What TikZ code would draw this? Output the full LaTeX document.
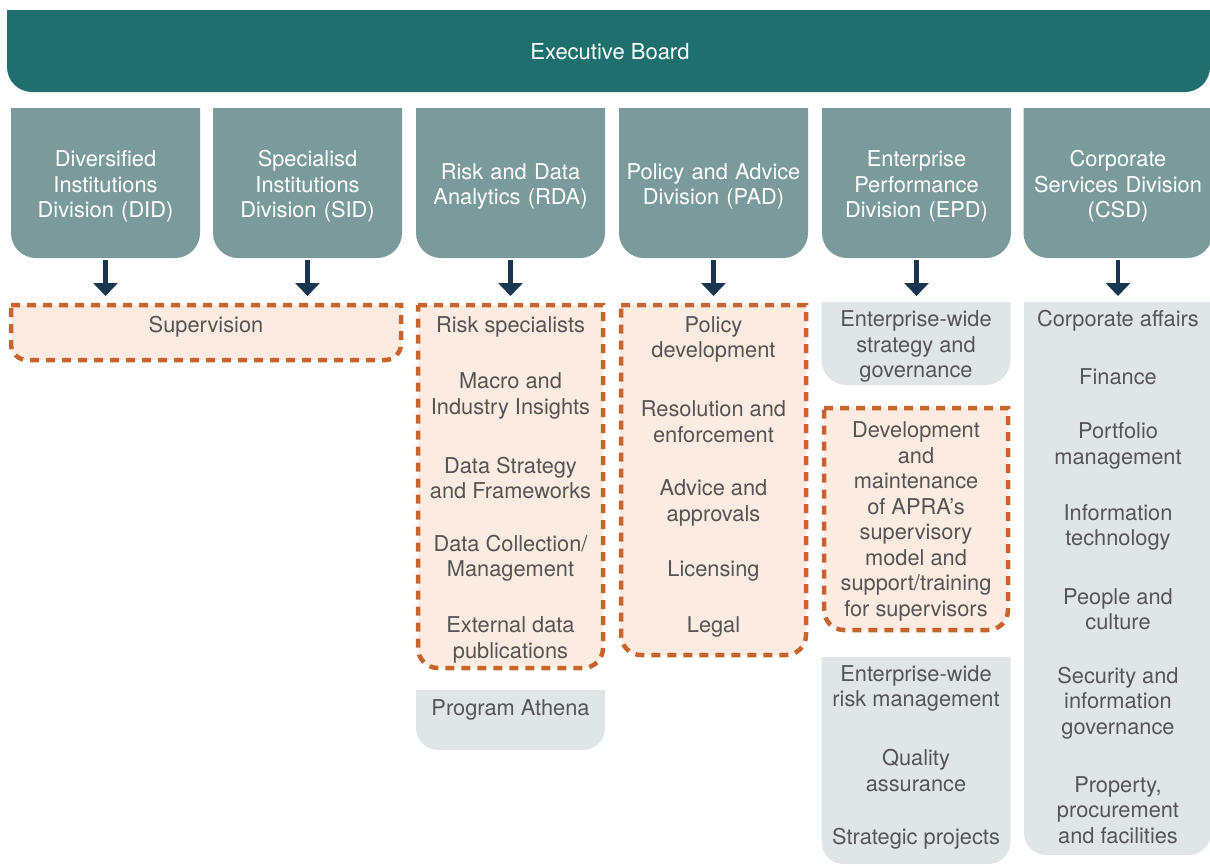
\documentclass[tikz,border=0pt]{standalone}
\usepackage{fontspec}
\setmainfont{TeX Gyre Heros}
\usetikzlibrary{arrows.meta,backgrounds}
\definecolor{boardc}{HTML}{1F6F6F}
\definecolor{divc}{HTML}{7A9A9B}
\definecolor{greyc}{HTML}{E0E6E7}
\definecolor{peachc}{HTML}{FBEBE0}
\definecolor{dashc}{HTML}{C8652F}
\definecolor{arrowc}{HTML}{1A3550}
\definecolor{textc}{HTML}{555555}
\newcommand{\botbox}[3]{%
  \path[#1] (#2.north west) -- (#2.north east) -- ([yshift=#3]#2.south east)
    arc[start angle=0,end angle=-90,radius=#3] -- ([xshift=#3]#2.south west)
    arc[start angle=270,end angle=180,radius=#3] -- cycle;}
\tikzset{
  box/.style={minimum width=#1, inner sep=0pt, outer sep=0pt, draw=none},
  divbox/.style={inner sep=0pt, outer sep=0pt, minimum width=189pt, minimum height=150pt,
     text width=187pt, align=center, text=white, font=\fontsize{21.8}{25.5}\selectfont},
  item/.style={align=center, text=textc, inner sep=0pt, font=\fontsize{21.8}{25.5}\selectfont},
  boardfill/.style={fill=boardc},
  divfill/.style={fill=divc},
  greyfill/.style={fill=greyc},
  dashbox/.style={fill=peachc, draw=dashc, line width=4.5pt, dash pattern=on 9pt off 7pt},
  arr/.style={draw=arrowc, line width=4.5pt, -{Triangle[width=24pt,length=13pt]}, shorten <=2pt}
}
\begin{document}
\begin{tikzpicture}[x=1pt,y=1pt]
\useasboundingbox (0,0) rectangle (1210,-865);
% executive board
\node[inner sep=0pt, outer sep=0pt, minimum width=1206pt, minimum height=82pt, text=white,
  font=\fontsize{22}{25}\selectfont] (board) at (610,-52) {Executive Board};
% divisions
\node[divbox] (did) at (105.5,-183) {};
\node[divbox] (sid) at (307.5,-183) {};
\node[divbox] (rda) at (510.5,-183) {};
\node[divbox] (pad) at (713.5,-183) {};
\node[divbox] (epd) at (916.5,-183) {};
\node[divbox] (csd) at (1118,-183) {};
\node[divbox, minimum height=0pt] (didt) at (105.5,-186.5) {Diversified\\Institutions\\Division (DID)};
\node[divbox, minimum height=0pt] (sidt) at (307.5,-186.5) {Specialisd\\Institutions\\Division (SID)};
\node[divbox, minimum height=0pt] (rdat) at (510.5,-186.5) {Risk and Data\\Analytics (RDA)};
\node[divbox, minimum height=0pt] (padt) at (713.5,-186.5) {Policy and Advice\\Division (PAD)};
\node[divbox, minimum height=0pt] (epdt) at (916.5,-186.5) {Enterprise\\Performance\\Division (EPD)};
\node[divbox, minimum height=0pt] (csdt) at (1118,-186.5) {Corporate\\Services Division\\(CSD)};
% list containers
\node[box=390pt, minimum height=55pt] (sup) at (206,-332.5) {};
\node[box=185pt, minimum height=363pt] (rdal) at (510.5,-486.5) {};
\node[box=189pt, minimum height=60pt] (ath) at (510.5,-720) {};
\node[box=185pt, minimum height=350pt] (padl) at (713.5,-480) {};
\node[box=189pt, minimum height=83pt] (epd1) at (916,-343.5) {};
\node[box=184pt, minimum height=222pt] (epd2) at (916,-519) {};
\node[box=189pt, minimum height=207pt] (epd3) at (916,-760.5) {};
\node[box=187pt, minimum height=553pt] (csdl) at (1117.5,-578.5) {};
\begin{scope}[on background layer]
  \path[boardfill] (7,-10) -- (1210,-10) -- (1210,-67) arc[start angle=0,end angle=-90,radius=25]
    -- (32,-92) arc[start angle=270,end angle=180,radius=25] -- cycle;
  \foreach \n in {did,sid,rda,pad,epd,csd}{\botbox{divfill}{\n}{25pt}}
  \botbox{dashbox}{sup}{16pt}
  \botbox{dashbox}{rdal}{20pt}
  \botbox{dashbox}{padl}{20pt}
  \botbox{dashbox}{epd2}{20pt}
  \botbox{greyfill}{ath}{22pt}
  \botbox{greyfill}{epd1}{25pt}
  \botbox{greyfill}{epd3}{22pt}
  \botbox{greyfill}{csdl}{22pt}
\end{scope}
% items
\node[item] (sup1) at (206,-327) {Supervision};
\node[item] (r1) at (510.5,-327) {Risk specialists};
\node[item] (r2) at (510.5,-396) {Macro and\\Industry Insights};
\node[item] (r3) at (510.5,-478) {Data Strategy\\and Frameworks};
\node[item] (r4) at (510.5,-558) {Data Collection/\\Management};
\node[item] (r5) at (510.5,-640) {External data\\publications};
\node[item] (a1) at (510.5,-710) {Program Athena};
\node[item] (p1) at (713.5,-339.5) {Policy\\development};
\node[item] (p2) at (713.5,-421.5) {Resolution and\\enforcement};
\node[item] (p3) at (713.5,-503) {Advice and\\approvals};
\node[item] (p4) at (713.5,-571) {Licensing};
\node[item] (p5) at (713.5,-627) {Legal};
\node[item] (e1) at (916,-346.5) {Enterprise-wide\\strategy and\\governance};
\node[item] (e2) at (916,-521.5) {Development\\and\\maintenance\\of APRA’s\\supervisory\\model and\\support/training\\for supervisors};
\node[item] (e3) at (916,-688.5) {Enterprise-wide\\risk management};
\node[item] (e4) at (916,-770.5) {Quality\\assurance};
\node[item] (e5) at (916,-839) {Strategic projects};
\node[item] (c1) at (1118,-321) {Corporate affairs};
\node[item] (c2) at (1118,-377) {Finance};
\node[item] (c3) at (1118,-446) {Portfolio\\management};
\node[item] (c4) at (1118,-527.5) {Information\\technology};
\node[item] (c5) at (1118,-609) {People and\\culture};
\node[item] (c6) at (1118,-703) {Security and\\information\\governance};
\node[item] (c7) at (1118,-810) {Property,\\procurement\\and facilities};
% arrows
\draw[arr, shorten >=9pt] (did.south) -- (did.south |- sup.north);
\draw[arr, shorten >=9pt] (sid.south) -- (sid.south |- sup.north);
\draw[arr, shorten >=9pt] (rda.south) -- (rda.south |- rdal.north);
\draw[arr, shorten >=9pt] (pad.south) -- (pad.south |- padl.north);
\draw[arr, shorten >=6pt] (epd.south) -- (epd.south |- epd1.north);
\draw[arr, shorten >=6pt] (csd.south) -- (csd.south |- csdl.north);
\end{tikzpicture}
\end{document}
